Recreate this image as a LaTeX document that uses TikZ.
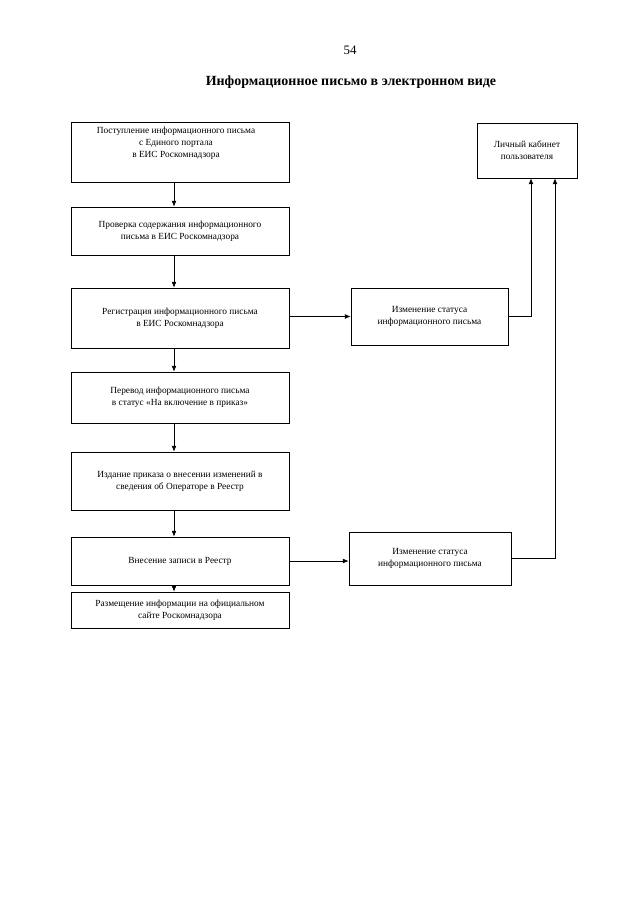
\documentclass[tikz,border=0pt]{standalone}
\usepackage{fontspec}
\setmainfont{Liberation Serif}
\usetikzlibrary{arrows.meta,calc}
\def\px{0.9302pt}
\begin{document}
\begin{tikzpicture}[x=0.9302pt,y=-0.9302pt,
  box/.style={draw, line width=0.6pt, inner sep=0pt, align=center,
    font=\fontsize{8.7}{11}\selectfont},
  txt/.style={inner sep=0pt, align=center, font=\fontsize{8.7}{11}\selectfont},
  arr/.style={line width=0.6pt, -{Latex[length=5.5pt,width=4.5pt]}}]
\useasboundingbox (0,0) rectangle (640,905);
\node[inner sep=0pt, font=\fontsize{12}{14}\selectfont] (pg) at (350,50) {54};
\node[inner sep=0pt, font=\fontsize{13}{15}\selectfont\bfseries] (title) at (351,82) {Информационное письмо в электронном виде};

\node[box, minimum width=218*\px, minimum height=60*\px] (b1) at (180,152) {};
\node[txt] (t1) at (176,143) {Поступление информационного письма\\с Единого портала\\в ЕИС Роскомнадзора};
\node[box, minimum width=218*\px, minimum height=48*\px] (b2) at (180,231) {Проверка содержания информационного\\письма в ЕИС Роскомнадзора};
\node[box, minimum width=218*\px, minimum height=60*\px] (b3) at (180,318) {Регистрация информационного письма\\в ЕИС Роскомнадзора};
\node[box, minimum width=218*\px, minimum height=51*\px] (b4) at (180,397.5) {Перевод информационного письма\\в статус «На включение в приказ»};
\node[box, minimum width=218*\px, minimum height=58*\px] (b5) at (180,481) {Издание приказа о внесении изменений в\\сведения об Операторе в Реестр};
\node[box, minimum width=218*\px, minimum height=48*\px] (b6) at (180,561) {Внесение записи в Реестр};
\node[box, minimum width=218*\px, minimum height=36*\px] (b7) at (180,610) {Размещение информации на официальном\\сайте Роскомнадзора};

\node[box, minimum width=100*\px, minimum height=55*\px] (cab) at (527,150.5) {Личный кабинет\\пользователя};
\node[box, minimum width=157*\px, minimum height=57*\px] (s1) at (429.5,316.5) {Изменение статуса\\информационного письма};
\node[box, minimum width=162*\px, minimum height=53*\px] (s2) at (430,558.5) {Изменение статуса\\информационного письма};

\coordinate (ax) at (174,0);
\coordinate (c1) at (531,0);
\coordinate (c2) at (555,0);
\draw[arr] (b1.south -| ax) -- (b2.north -| ax);
\draw[arr] (b2.south -| ax) -- (b3.north -| ax);
\draw[arr] (b3.south -| ax) -- (b4.north -| ax);
\draw[arr] (b4.south -| ax) -- (b5.north -| ax);
\draw[arr] (b5.south -| ax) -- (b6.north -| ax);
\draw[arr] (b6.south -| ax) -- (b7.north -| ax);
\draw[arr] (b3.east |- s1.west) -- (s1.west);
\draw[arr] (b6.east) -- (b6.east -| s2.west);
\draw[arr] (s1.east) -| (c1 |- cab.south);
\draw[arr] (s2.east) -| (c2 |- cab.south);
\end{tikzpicture}
\end{document}
